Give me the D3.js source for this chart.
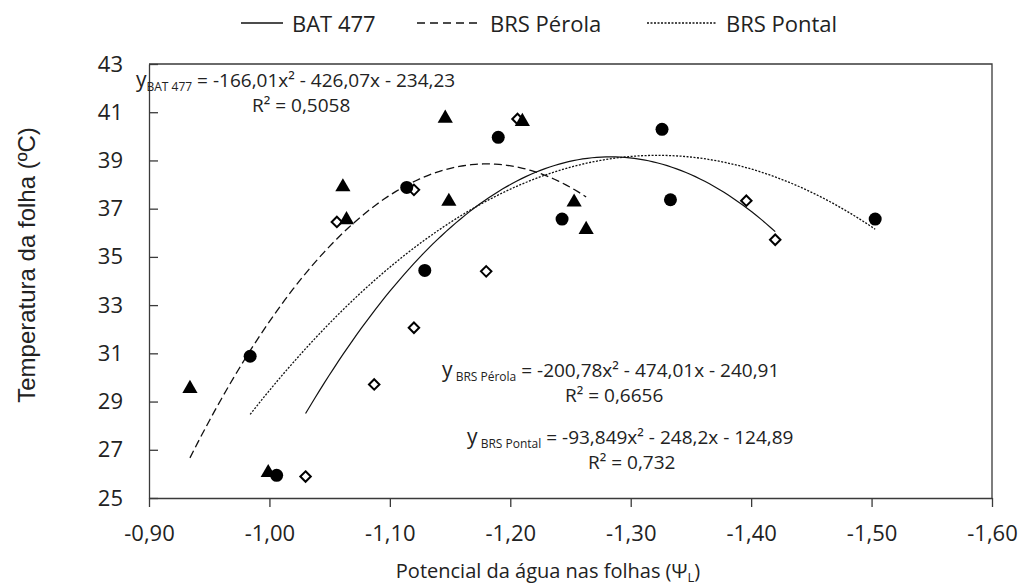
<!DOCTYPE html>
<html>
<head>
<meta charset="UTF-8">
<title>Temperatura da folha</title>
<script src="https://d3js.org/d3.v7.min.js"></script>
<style>
  body { margin: 0; background: #fff; }
  svg text { font-family: "Open Sans", sans-serif; fill: #222; }
</style>
</head>
<body>
<div id="chart"></div>
<script>
// series values (x = leaf water potential, y = leaf temperature)
var batX = [-1.030, -1.056, -1.087, -1.120, -1.120, -1.180, -1.206, -1.396, -1.420];
var batY = [25.89, 36.45, 29.71, 37.78, 32.06, 34.40, 40.72, 37.33, 35.71];

var perolaX = [-0.934, -0.999, -1.061, -1.064, -1.146, -1.149, -1.210, -1.253, -1.263];
var perolaY = [29.54, 26.05, 37.90, 36.54, 40.75, 37.30, 40.61, 37.27, 36.13];

var pontalX = [-0.984, -1.006, -1.114, -1.129, -1.190, -1.243, -1.326, -1.333, -1.503];
var pontalY = [30.88, 25.94, 37.88, 34.44, 39.96, 36.57, 40.29, 37.37, 36.57];

// fitted trend lines printed on the chart: y = a x^2 + b x + c
var batCoef = [-166.01, -426.07, -234.23];
var perolaCoef = [-200.78, -474.01, -240.91];
var pontalCoef = [-93.849, -248.2, -124.89];

var seriesNames = ["BAT 477", "BRS Pérola", "BRS Pontal"];
var xTicks = [-0.9, -1.0, -1.1, -1.2, -1.3, -1.4, -1.5, -1.6];
var yTicks = [25, 27, 29, 31, 33, 35, 37, 39, 41, 43];

var width = 1019, height = 586;
var margin = { top: 64, right: 27, bottom: 88, left: 149 };

var svg = d3.select("#chart").append("svg")
    .attr("width", width)
    .attr("height", height);

var x = d3.scaleLinear().domain([-0.9, -1.6]).range([margin.left, width - margin.right]);
var y = d3.scaleLinear().domain([25, 43]).range([height - margin.bottom, margin.top]);

var fmt = function (v) { return v.toFixed(2).replace(".", ","); };
var axisColor = "#3a3a3a";

// frame top and right
svg.append("path")
    .attr("d", "M" + x(-0.9) + "," + y(43) + "H" + x(-1.6) + "V" + y(25))
    .attr("fill", "none")
    .attr("stroke", axisColor)
    .attr("stroke-width", 1.3);

// x axis
var gx = svg.append("g")
    .attr("transform", "translate(0," + y(25) + ")")
    .call(d3.axisBottom(x).tickValues(xTicks).tickFormat(fmt).tickSize(9).tickSizeOuter(0).tickPadding(18));

// y axis, ticks inside
var gy = svg.append("g")
    .attr("transform", "translate(" + x(-0.9) + ",0)")
    .call(d3.axisLeft(y).tickValues(yTicks).tickFormat(d3.format("d")).tickSize(-9).tickSizeOuter(0).tickPadding(26));

[gx, gy].forEach(function (g) {
    g.select(".domain").attr("stroke", axisColor).attr("stroke-width", 1.3);
    g.selectAll(".tick line").attr("stroke", axisColor).attr("stroke-width", 1.3);
    g.selectAll(".tick text")
        .style("font-family", "'Open Sans', sans-serif")
        .style("font-size", "22px")
        .attr("fill", "#222");
});

// axis titles
var xt = svg.append("text")
    .attr("x", 548)
    .attr("y", 578)
    .attr("text-anchor", "middle")
    .style("font-size", "20px");
xt.append("tspan").text("Potencial da água nas folhas (Ψ");
xt.append("tspan").attr("dy", 4).style("font-size", "13px").text("L");
xt.append("tspan").attr("dy", -4).text(")");

svg.append("text")
    .attr("transform", "translate(35,265) rotate(-90)")
    .attr("text-anchor", "middle")
    .style("font-family", "'Liberation Sans', Arial, sans-serif")
    .style("font-size", "24px")
    .text("Temperatura da folha (ºC)");

// trend curves
function curvePoints(coef, xs) {
    var lo = d3.min(xs), hi = d3.max(xs);
    return d3.range(0, 101).map(function (i) {
        var xv = hi + (lo - hi) * i / 100;
        return [xv, coef[0] * xv * xv + coef[1] * xv + coef[2]];
    });
}

var line = d3.line()
    .x(function (d) { return x(d[0]); })
    .y(function (d) { return y(d[1]); });

var dashes = ["none", "8,4", "2,1.5"];
var curves = [[batCoef, batX], [perolaCoef, perolaX], [pontalCoef, pontalX]];

curves.forEach(function (c, i) {
    svg.append("path")
        .datum(curvePoints(c[0], c[1]))
        .attr("d", line)
        .attr("fill", "none")
        .attr("stroke", "#111")
        .attr("stroke-width", i == 0 ? 1.2 : 1.3)
        .attr("stroke-dasharray", dashes[i]);
});

// markers
var diamond = d3.symbol().type(d3.symbolDiamond2).size(70);
var tri = d3.symbol().type(d3.symbolTriangle).size(100);

svg.append("g").selectAll("path")
    .data(d3.zip(batX, batY))
    .enter().append("path")
    .attr("d", diamond)
    .attr("transform", function (d) { return "translate(" + x(d[0]) + "," + y(d[1]) + ")"; })
    .attr("fill", "#fff")
    .attr("stroke", "#000")
    .attr("stroke-width", 2);

svg.append("g").selectAll("path")
    .data(d3.zip(perolaX, perolaY))
    .enter().append("path")
    .attr("d", tri)
    .attr("transform", function (d) { return "translate(" + x(d[0]) + "," + y(d[1]) + ")"; })
    .attr("fill", "#000");

svg.append("g").selectAll("circle")
    .data(d3.zip(pontalX, pontalY))
    .enter().append("circle")
    .attr("cx", function (d) { return x(d[0]); })
    .attr("cy", function (d) { return y(d[1]); })
    .attr("r", 6.5)
    .attr("fill", "#000");

// equations
function equation(xPos, yPos, sub, rest, r2, r2x) {
    var t = svg.append("text").attr("x", xPos).attr("y", yPos).style("font-size", "19px");
    t.append("tspan").style("font-size", "21px").text("y");
    t.append("tspan").attr("dy", 4).style("font-size", "12px").text(sub);
    t.append("tspan").attr("dy", -4).text(rest);
    var r = svg.append("text").attr("x", r2x).attr("y", yPos + 25).style("font-size", "19px");
    r.append("tspan").text("R² = " + r2);
}

equation(136, 87, "BAT 477", " = -166,01x² - 426,07x - 234,23", "0,5058", 252);
equation(442, 377, " BRS Pérola", " = -200,78x² - 474,01x - 240,91", "0,6656", 565);
equation(467, 444, " BRS Pontal", " = -93,849x² - 248,2x - 124,89", "0,732", 588);

// legend
var legX = [241, 417, 647];
var legLen = [42, 64, 70];
var legDash = ["none", "8,5", "2,1.5"];
seriesNames.forEach(function (n, i) {
    svg.append("line")
        .attr("x1", legX[i]).attr("x2", legX[i] + legLen[i])
        .attr("y1", 23).attr("y2", 23)
        .attr("stroke", "#111")
        .attr("stroke-width", 1.3)
        .attr("stroke-dasharray", legDash[i]);
    svg.append("text")
        .attr("x", legX[i] + legLen[i] + 9)
        .attr("y", 32)
        .style("font-size", "22px")
        .text(n);
});
</script>
</body>
</html>
